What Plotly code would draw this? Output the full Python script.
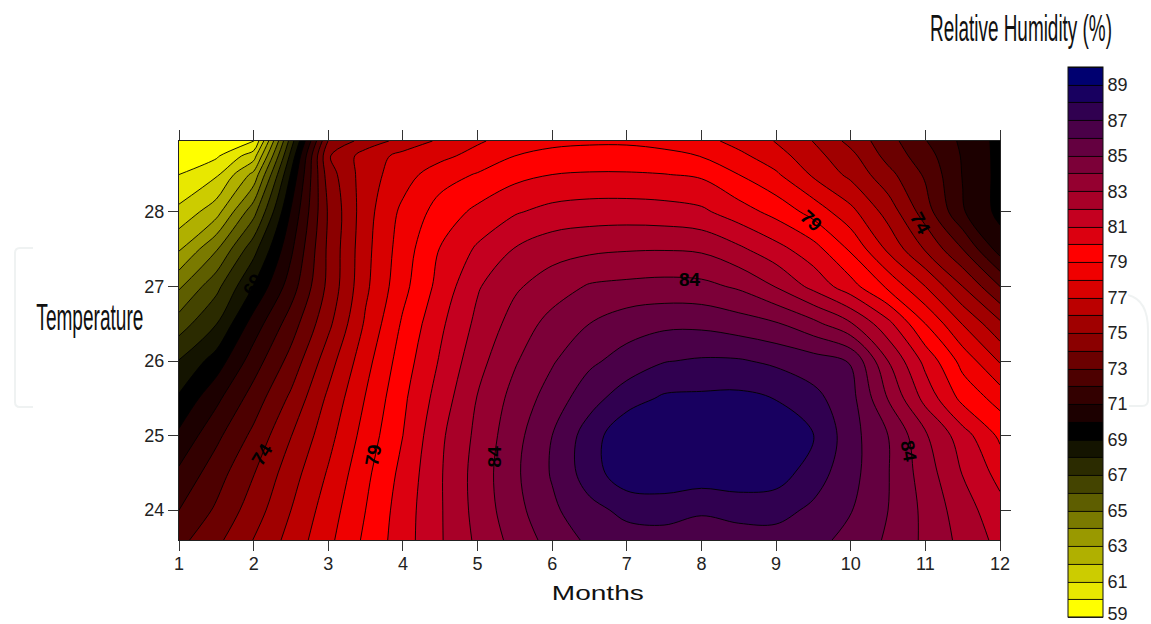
import plotly.graph_objects as go

months = [1, 1.5, 2, 2.5, 3, 3.5, 4, 4.5, 5, 5.5, 6, 6.5, 7, 7.5, 8, 8.5, 9, 9.5, 10, 10.5, 11, 11.5, 12]
temperature = [23.6, 24, 24.5, 25, 25.5, 26, 26.5, 27, 27.5, 28, 28.5, 28.75, 28.95]

rh_236 = [72.7,73.75,75.03,76.35,77.75,79.2,80.55,81.9,83.2,84.35,85.4,86.2,86.6,86.6,86.35,86.55,86.6,86.3,85.7,84.85,83.8,82.7,81.7]
rh_240 = [72.0,73.15,74.5,76.0,77.5,79,80.5,81.9,83.35,84.65,85.8,86.7,87.25,87.4,87.15,87.35,87.35,86.8,86.05,85,83.75,82.45,81.35]
rh_245 = [71.18,72.55,73.95,75.55,77.1,78.75,80.3,81.9,83.4,84.8,86.1,87.5,88.7,88.75,88.6,88.7,88.5,87.5,86.35,85.05,83.5,81.95,80.65]
rh_250 = [70.2,71.75,73.25,74.97,76.65,78.4,80,81.8,83.25,84.65,86,87.5,88.8,88.8,88.75,88.75,88.6,88.05,86.4,85,83.15,81.45,79.8]
rh_255 = [69.15,70.75,72.45,74.2,76.2,78.05,79.8,81.45,83.05,84.35,85.45,86.6,87.55,88.15,88.2,88.25,87.97,87.3,86.35,83.95,81.67,79.7,78.6]
rh_260 = [68.05,69.45,71.5,73.35,75.55,77.65,79.5,81.1,82.65,83.9,84.9,85.8,86.4,86.95,87.12,87.1,86.8,86.45,85.95,83,80.7,78.65,76.9]
rh_265 = [66.5,67.97,70.45,72.5,74.75,77.15,79.15,80.8,82.25,83.4,84.35,85,85.55,85.78,85.77,85.48,85.1,84.3,83.1,81.3,79,76.95,75.2]
rh_270 = [64.85,66.7,69.05,71.5,74.25,76.8,78.7,80.35,81.9,82.85,83.5,84.1,84.25,84.35,84.28,83.85,82.95,81.7,80.4,78.8,77,75,73]
rh_275 = [62.9,64.9,67.65,70.8,74.2,76.7,78.5,80.05,81.15,82.05,82.6,82.8,82.92,82.95,82.85,82.2,81.35,80.4,78.85,76.8,74.9,73,70.55]
rh_280 = [61.26,62.6,65.65,70.1,74.1,76.6,78.25,79.4,80.25,80.9,81.32,81.48,81.5,81.42,81.2,80.47,79.67,78.63,77.3,75.6,73.5,71.1,69.7]
rh_285 = [60,60.85,63.3,69.1,74.5,76.55,77.55,78.6,79.07,79.7,80,80.1,80.1,80.03,79.85,79,78.15,76.85,75.75,74.33,72.85,70.95,69.7]
rh_2875 = [59.35,59.85,61.55,68.3,74.9,76.45,77.3,77.7,78.4,79,79.3,79.4,79.4,79.25,78.97,78.25,77.43,76.35,75.3,73.65,72.45,70.9,69.7]
rh_2895 = [59,59.3,59.95,67.5,74.05,75.42,76.35,77.17,77.85,78.5,78.75,78.85,78.85,78.7,78.35,77.65,76.95,75.97,74.7,73.4,72.05,70.8,69.7]

humidity = [rh_236, rh_240, rh_245, rh_250, rh_255, rh_260, rh_265, rh_270, rh_275, rh_280, rh_285, rh_2875, rh_2895]

band_colors = ["#ffff00","#e8e800","#cccc00","#b0b000","#999900","#7a7a00","#5e5e00","#444400","#2b2b00","#141400",
               "#000000","#1c0000","#330000","#4d0000","#6b0000","#8b0000","#a00000","#bb0000","#d80000","#f00000",
               "#ff0000","#dc0010","#c40020","#a80028","#950030","#7c0038","#640040","#4a0048","#300050","#180060","#000070"]

colorbar_ticks = [59, 61, 63, 65, 67, 69, 71, 73, 75, 77, 79, 81, 83, 85, 87, 89]

contour_labels = ["69", "74", "79", "84", "84", "79", "74", "84"]
label_month = [2.0, 2.11, 3.61, 5.22, 7.85, 9.47, 10.93, 10.78]
label_temp = [27.02, 24.75, 24.74, 24.72, 27.09, 27.89, 27.84, 24.79]
label_angle = [-60, -58, -80, -90, 0, 42, 62, 80]

n = len(band_colors)
scale = []
for i, c in enumerate(band_colors):
    scale += [[i / n, c], [(i + 1) / n, c]]

W, H = 1151, 624
L, R, T, B = 179, 1000, 141, 540
px = lambda v: (v - L) / (R - L)
py = lambda v: (B - v) / (B - T)

fig = go.Figure(go.Contour(
    x=months, y=temperature, z=humidity,
    autocontour=False,
    contours=dict(start=59, end=90, size=1, coloring="fill", showlines=True),
    line=dict(color="#000000", width=0.9, smoothing=1),
    colorscale=scale, zmin=59, zmax=90,
    hoverinfo="skip",
    colorbar=dict(
        x=px(1068), xanchor="left", xpad=0, thickness=35, thicknessmode="pixels",
        y=py(67), yanchor="top", ypad=0, len=550, lenmode="pixels",
        outlinecolor="#111111", outlinewidth=1,
        tickmode="array",
        tickvals=[t + 0.2 if t == colorbar_ticks[0] else t for t in colorbar_ticks],
        ticktext=[str(t) for t in colorbar_ticks],
        ticklabeloverflow="allow",
        ticks="", ticklen=0,
        tickfont=dict(family="Liberation Sans", size=18, color="#222222"),
    ),
))

axis_common = dict(
    ticks="outside", ticklen=10, tickwidth=1, tickcolor="#333333",
    showline=True, linecolor="#222222", linewidth=1, mirror="ticks",
    showgrid=False, zeroline=False,
    tickfont=dict(family="Liberation Sans", size=18, color="#222222"),
)
fig.update_xaxes(range=[1, 12], tickvals=list(range(1, 13)), ticklabelstandoff=-3, **axis_common)
fig.update_yaxes(range=[23.6, 28.95], tickvals=[24, 25, 26, 27, 28], **axis_common)

annotations = [
    dict(x=m, y=t, xref="x", yref="y", text=s, textangle=a, showarrow=False,
         xanchor="center", yanchor="middle",
         font=dict(family="Liberation Sans", size=19, color="#000000", weight=700))
    for s, m, t, a in zip(contour_labels, label_month, label_temp, label_angle)
]
annotations += [
    dict(x=px(598), y=py(593), xref="paper", yref="paper", text="Months", showarrow=False,
         xanchor="center", yanchor="middle",
         font=dict(family="Liberation Sans", size=20, color="#111111")),
    dict(x=px(89.5), y=py(317.5), xref="paper", yref="paper", text="Temperature", showarrow=False,
         xanchor="center", yanchor="middle",
         font=dict(family="Liberation Sans", size=37, color="#111111")),
    dict(x=px(1021), y=py(28.5), xref="paper", yref="paper", text="Relative Humidity (%)", showarrow=False,
         xanchor="center", yanchor="middle",
         font=dict(family="Liberation Sans", size=36, color="#111111")),
]

bracket = "#eff2f2"
shapes = [
    dict(type="path", xref="paper", yref="paper", layer="below",
         path=f"M {px(33)} {py(248)} L {px(20)} {py(248)} Q {px(15)} {py(248)} {px(15)} {py(253)} "
              f"L {px(15)} {py(402)} Q {px(15)} {py(407)} {px(20)} {py(407)} L {px(33)} {py(407)}",
         line=dict(color=bracket, width=2)),
    dict(type="path", xref="paper", yref="paper", layer="below",
         path=f"M {px(1128)} {py(295)} Q {px(1148)} {py(300)} {px(1148)} {py(330)} "
              f"L {px(1148)} {py(400)} Q {px(1148)} {py(406)} {px(1142)} {py(406)} L {px(1129)} {py(406)}",
         line=dict(color=bracket, width=2)),
]

fig.update_layout(
    width=W, height=H, autosize=False,
    margin=dict(l=L, r=W - R, t=T, b=H - B, pad=0),
    paper_bgcolor="#ffffff", plot_bgcolor="#ffffff",
    annotations=annotations, shapes=shapes,
    showlegend=False,
)

# The reference stretches its three titles horizontally; fit each to its measured width.
post = """
document.body.style.margin='0';
var widths={'Months':92,'Temperature':107,'Relative Humidity (%)':182};
document.querySelectorAll('.annotation-text').forEach(function(t){
  var w=widths[t.textContent];
  if(!w)return;
  var b=t.getBBox(),cx=b.x+b.width/2,sx=w/b.width;
  t.setAttribute('transform','translate('+cx+' 0) scale('+sx+' 1) translate('+(-cx)+' 0)');
});
"""
fig.write_html("out.html", post_script=post, config=dict(displayModeBar=False))
